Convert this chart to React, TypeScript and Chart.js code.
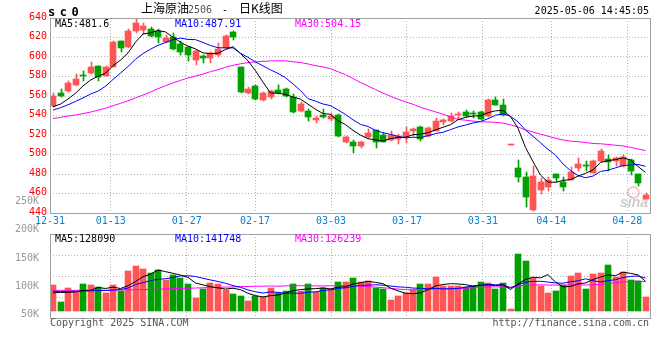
import React, { useEffect, useRef } from "react";
import { Chart, registerables } from "chart.js";

Chart.register(...registerables);

// ---------------- data ----------------
const opens = [
  549.4, 563.1, 564.8, 571.3, 581.0, 583.2, 590.4, 580.9, 590.1, 616.1,
  610.6, 626.3, 628.0, 628.7, 627.0, 615.0, 620.2, 613.3, 609.9, 596.9,
  600.7, 599.0, 602.4, 609.2, 626.0, 589.4, 563.1, 570.6, 555.9, 559.3,
  566.2, 567.2, 559.3, 545.0, 544.3, 535.7, 540.9, 536.0, 540.9, 513.2,
  513.2, 508.7, 517.6, 525.1, 520.3, 514.9, 515.9, 517.6, 524.4, 527.9,
  519.3, 524.4, 533.0, 534.7, 540.5, 543.2, 542.2, 543.2, 539.8, 555.9,
  551.1, 509.5, 486.2, 477.3, 443.1, 463.6, 467.0, 480.0, 472.1, 474.2,
  486.2, 488.9, 481.0, 493.7, 495.4, 493.0, 488.5, 494.7, 480.0, 454.4,
];
const closes = [
  560.3, 560.3, 573.0, 577.4, 580.5, 590.1, 579.8, 589.4, 615.7, 608.9,
  627.0, 634.9, 631.5, 621.9, 620.9, 619.1, 608.2, 605.5, 602.1, 606.5,
  598.6, 604.1, 608.2, 621.2, 620.2, 563.8, 567.2, 556.9, 562.7, 564.8,
  563.1, 560.3, 543.9, 551.8, 538.8, 537.4, 538.1, 539.8, 519.3, 518.3,
  508.7, 513.2, 521.7, 513.2, 513.2, 520.3, 519.3, 522.7, 526.2, 515.9,
  527.2, 534.7, 535.4, 539.8, 541.5, 539.1, 541.5, 536.4, 555.9, 551.1,
  540.9, 510.0, 477.3, 456.8, 478.3, 472.1, 474.2, 475.9, 466.3, 482.4,
  490.3, 488.5, 493.7, 503.9, 492.0, 496.1, 497.1, 482.7, 470.4, 458.5,
];
const highs = [
  563.1, 567.2, 575.7, 582.6, 586.0, 595.2, 591.0, 591.1, 616.0, 616.5,
  628.7, 640.0, 634.9, 630.4, 628.7, 622.6, 624.3, 616.8, 610.6, 607.2,
  602.4, 604.8, 614.0, 622.6, 626.5, 589.9, 569.2, 571.3, 564.4, 566.2,
  571.3, 568.2, 562.0, 553.5, 546.7, 539.8, 546.7, 542.2, 541.5, 519.3,
  514.9, 514.2, 526.2, 525.5, 521.7, 523.8, 521.0, 527.9, 526.8, 529.2,
  527.9, 537.4, 536.4, 542.2, 543.2, 545.6, 545.0, 544.3, 556.9, 559.3,
  556.9, 510.0, 494.7, 482.4, 488.5, 475.6, 476.6, 480.3, 477.3, 486.8,
  496.4, 493.7, 494.0, 505.6, 499.8, 497.5, 499.8, 495.2, 480.5, 460.2,
];
const lows = [
  548.5, 558.6, 563.8, 570.6, 575.7, 582.6, 575.7, 580.2, 589.5, 605.5,
  608.9, 624.6, 623.6, 620.2, 614.0, 614.0, 607.2, 602.0, 596.2, 592.1,
  593.8, 593.8, 599.7, 608.2, 617.4, 563.1, 562.0, 555.9, 555.2, 556.9,
  562.0, 559.3, 542.6, 543.3, 534.7, 532.6, 537.4, 534.7, 518.3, 511.5,
  501.2, 506.7, 517.0, 506.7, 512.5, 514.2, 510.8, 511.5, 519.3, 514.2,
  518.3, 523.8, 530.6, 533.0, 536.4, 538.8, 537.4, 535.7, 538.1, 550.8,
  539.8, 509.5, 472.1, 446.5, 442.4, 459.5, 462.9, 471.5, 462.9, 473.5,
  483.4, 483.4, 480.7, 492.0, 483.4, 488.5, 487.5, 479.3, 468.0, 454.0,
];
const volumes = [
  110600, 38800, 97700, 81900, 115000, 110600, 102000, 76200, 110600, 84800,
  171000, 192600, 179600, 165300, 175300, 135000, 156600, 142300, 115000, 54600,
  93400, 120700, 115000, 89100, 71900, 63200, 41700, 64700, 60400, 100600,
  76200, 84800, 115000, 84800, 115000, 81900, 99200, 94800, 123600, 123600,
  140800, 123600, 127900, 100600, 96300, 46000, 63200, 77600, 89100, 115000,
  115000, 145100, 106300, 107800, 107800, 102000, 109200, 123600, 119300, 93400,
  119300, 7200, 244300, 214100, 143700, 106300, 76200, 84800, 110600, 150900,
  163800, 93400, 159500, 163800, 198300, 146600, 168100, 135100, 129300, 60400,
];
const ma5 = [
  549.0, 551.7, 556.9, 562.8, 570.3, 576.3, 580.2, 583.4, 591.1, 596.8,
  604.2, 615.2, 623.6, 624.8, 627.2, 625.7, 620.3, 615.1, 611.2, 608.3,
  604.2, 603.4, 603.9, 607.7, 610.5, 603.5, 596.1, 585.9, 574.2, 563.1,
  562.9, 561.6, 559.0, 556.8, 551.6, 546.4, 542.0, 541.2, 534.7, 530.6,
  524.8, 519.9, 516.2, 515.0, 514.0, 516.3, 517.5, 517.7, 520.3, 520.9,
  522.3, 525.3, 527.9, 530.6, 535.7, 538.1, 539.5, 539.7, 542.9, 544.8,
  545.2, 538.9, 527.0, 507.2, 492.7, 478.9, 471.7, 471.5, 473.4, 474.2,
  477.8, 480.7, 484.2, 491.8, 493.7, 494.8, 496.6, 494.4, 487.7, 481.6,
];
const ma10 = [
  545.5, 548.0, 551.0, 554.5, 558.0, 562.0, 565.0, 570.0, 577.0, 583.5,
  590.2, 597.7, 603.5, 608.0, 612.0, 614.9, 617.8, 619.4, 618.0, 617.8,
  614.9, 611.8, 609.5, 609.4, 609.4, 603.8, 599.7, 594.9, 590.9, 586.8,
  583.2, 578.8, 572.4, 565.5, 557.3, 554.7, 551.8, 550.1, 545.7, 541.1,
  535.6, 530.9, 528.7, 524.8, 522.3, 520.6, 518.7, 517.0, 517.7, 517.4,
  519.3, 521.4, 522.8, 525.5, 528.3, 530.2, 532.4, 533.8, 536.7, 540.3,
  541.6, 539.2, 533.4, 525.1, 518.7, 512.0, 505.3, 499.3, 490.3, 483.4,
  478.4, 476.2, 477.9, 482.6, 483.9, 486.3, 488.6, 489.3, 489.7, 487.91,
];
const ma30 = [
  537.0, 538.0, 539.5, 540.5, 542.0, 543.5, 545.5, 547.5, 550.0, 552.5,
  555.0, 558.0, 561.0, 564.0, 567.5, 570.5, 573.5, 576.0, 578.5, 580.5,
  582.5, 585.0, 587.0, 589.5, 591.5, 593.0, 594.3, 595.0, 595.5, 596.0,
  596.1, 596.1, 595.1, 594.3, 592.9, 591.1, 589.8, 588.1, 584.9, 581.9,
  577.9, 573.9, 570.2, 566.6, 563.0, 559.7, 556.7, 554.0, 551.5, 548.4,
  546.1, 543.7, 541.3, 538.6, 536.0, 535.2, 534.3, 533.6, 533.4, 532.9,
  532.2, 530.5, 528.3, 525.1, 523.1, 520.9, 518.8, 516.7, 514.9, 513.7,
  513.1, 512.3, 511.3, 511.0, 510.3, 509.5, 508.8, 507.4, 505.6, 504.15,
];
const volMa5 = [
  78000, 80000, 80000, 82000, 88800, 88800, 101400, 97100, 102900, 96800,
  108900, 127000, 147700, 158700, 176800, 169600, 162400, 154900, 144800, 120700,
  112400, 105200, 99700, 94600, 98000, 92000, 76200, 66100, 60400, 66100,
  68700, 77300, 87400, 92300, 95200, 96300, 99200, 95100, 102900, 104600,
  116400, 121300, 127900, 123300, 117800, 98900, 86800, 76700, 74400, 78200,
  92000, 108400, 114100, 117800, 116400, 113800, 106600, 110100, 112400, 109500,
  113000, 92600, 116700, 135700, 145700, 143100, 156900, 125000, 104300, 105800,
  117300, 120700, 135600, 146300, 155800, 152300, 167300, 162400, 155500, 128090,
];
const volMa10 = [
  85000, 84000, 84000, 85000, 86000, 87000, 88000, 88000, 90000, 92800,
  98900, 114200, 122400, 130800, 136800, 139200, 144700, 151300, 151800, 148700,
  141000, 133800, 127300, 119700, 109400, 102200, 90700, 82900, 77500, 82100,
  80400, 76800, 76800, 76300, 80600, 82500, 88300, 91300, 97600, 99900,
  106400, 110200, 111500, 113100, 111200, 107600, 104000, 102300, 98900, 98000,
  95400, 97600, 95400, 96100, 97300, 102900, 107500, 112100, 115100, 113000,
  113400, 99600, 113400, 124000, 127600, 128000, 124700, 120900, 120000, 125700,
  130200, 138800, 130300, 125300, 130800, 134800, 144000, 149000, 150900, 141748,
];
const volMa30 = [
  89000, 89000, 89000, 89000, 89500, 89500, 90000, 90000, 90000, 90500,
  91000, 91500, 92000, 93000, 94000, 95000, 96000, 97000, 98000, 99000,
  100000, 101000, 102000, 103000, 104000, 105000, 106000, 106500, 107000, 107900,
  106700, 108300, 108800, 108900, 108900, 108000, 107900, 108500, 108900, 110200,
  109200, 106900, 105200, 103000, 100400, 97400, 94300, 92200, 91300, 93300,
  94000, 94900, 94600, 95200, 96400, 97700, 99900, 101900, 103900, 103600,
  105100, 102500, 106800, 111100, 112000, 112900, 112100, 111800, 111300, 112200,
  113000, 112000, 113000, 115200, 118600, 121900, 125400, 127300, 128700, 126239,
];

const dateLabels = ["12-31", "01-13", "01-27", "02-17", "03-03", "03-17", "03-31", "04-14", "04-28"];
const dateIndex = [0, 8, 18, 27, 37, 47, 57, 66, 76];
const priceTicks = [440, 460, 480, 500, 520, 540, 560, 580, 600, 620, 640];
const volumeTicks = [50000, 100000, 150000, 200000, 250000];
const priceLegend = ["MA5:481.6", "MA10:487.91", "MA30:504.15"];
const volumeLegend = ["MA5:128090", "MA10:141748", "MA30:126239"];
const titleCode = "sc0";
const titleName = "上海原油";
const titleContract = "2506";
const titleKind = "日K线图";
const timestamp = "2025-05-06 14:45:05";
const copyright = "Copyright 2025 SINA.COM";
const siteUrl = "http://finance.sina.com.cn";

// ---------------- styles ----------------
const MONO = '"DejaVu Sans Mono", "Liberation Mono", monospace';
const CJK = '"Noto Sans CJK SC", "Noto Sans", sans-serif';
const UP = "#ff5555";
const DOWN = "#00a000";
const GRID = "#b4b4b4";
const FRAME = "#a0a0a0";
const LINE_COLORS = ["#000000", "#0000ff", "#ff00ff"];

const idx = closes.map((_, i) => i);
const candleColors = idx.map((i) => (closes[i] >= opens[i] ? UP : DOWN));
const tickFont = { family: MONO, size: 10 };

const snapPlugin = {
  id: "snapBars",
  afterDatasetsUpdate(chart: any) {
    chart.data.datasets.forEach((ds: any, di: number) => {
      if (!ds.snap) return;
      const meta = chart.getDatasetMeta(di);
      meta.data.forEach((el: any) => {
        const c = Math.round(el.x);
        el.x = ds.snap === "wick" ? c + 0.5 : c;
        const y = Math.round(el.y);
        let b = Math.round(el.base);
        if (y === b && ds.snap !== "wick") b = y + 1;
        el.y = y;
        el.base = b;
      });
    });
  },
};

const framePlugin = {
  id: "frame",
  afterDraw(chart: any) {
    const { ctx, chartArea: a } = chart;
    ctx.save();
    ctx.strokeStyle = FRAME;
    ctx.lineWidth = 1;
    ctx.setLineDash([]);
    ctx.strokeRect(
      Math.round(a.left) + 0.5,
      Math.round(a.top) + 0.5,
      Math.round(a.right - a.left),
      Math.round(a.bottom - a.top)
    );
    ctx.restore();
  },
};

const candleAxis = {
  type: "linear",
  min: -0.4,
  max: 79.6,
  display: false,
  offset: false,
  grid: { offset: false },
};

function lineDataset(values: number[], color: string, yAxisID: string) {
  return {
    type: "line",
    data: idx.map((i) => ({ x: i, y: values[i] })),
    borderColor: color,
    borderWidth: 1,
    pointRadius: 0,
    tension: 0,
    order: 0,
    xAxisID: "x",
    yAxisID,
  };
}

function priceConfig(): any {
  return {
    type: "bar",
    data: {
      datasets: [
        lineDataset(ma5, LINE_COLORS[0], "y"),
        lineDataset(ma10, LINE_COLORS[1], "y"),
        lineDataset(ma30, LINE_COLORS[2], "y"),
        {
          type: "bar",
          snap: "body",
          data: idx.map((i) => ({ x: i, y: [opens[i], closes[i]] })),
          backgroundColor: candleColors,
          barThickness: 6,
          grouped: false,
          minBarLength: 1,
          order: 1,
          xAxisID: "x",
          yAxisID: "y",
        },
        {
          type: "bar",
          snap: "wick",
          data: idx.map((i) => ({ x: i, y: [lows[i], highs[i]] })),
          backgroundColor: candleColors,
          barThickness: 1,
          grouped: false,
          order: 2,
          xAxisID: "x",
          yAxisID: "y",
        },
      ],
    },
    options: {
      animation: false,
      responsive: false,
      devicePixelRatio: 1,
      events: [],
      layout: { padding: { top: 18, right: 10, left: 0, bottom: 0 } },
      plugins: { legend: { display: false }, tooltip: { enabled: false }, title: { display: false } },
      scales: {
        x: candleAxis,
        xd: {
          type: "linear",
          position: "bottom",
          min: 0,
          max: 79,
          offset: false,
          afterBuildTicks: (s: any) => {
            s.ticks = dateIndex.map((v) => ({ value: v }));
          },
          afterFit: (s: any) => {
            s.height = 19;
          },
          ticks: {
            autoSkip: false,
            maxRotation: 0,
            minRotation: 0,
            padding: 2,
            font: tickFont,
            color: "#0a80d0",
            callback: (_v: any, i: number) => dateLabels[i],
          },
          grid: { color: GRID, drawTicks: false, offset: false },
          border: { display: false, dash: [1, 2] },
        },
        y: {
          type: "linear",
          position: "left",
          min: 440,
          max: 640,
          afterBuildTicks: (s: any) => {
            s.ticks = priceTicks.map((v) => ({ value: v }));
          },
          afterFit: (s: any) => {
            s.width = 50;
          },
          ticks: {
            autoSkip: false,
            font: tickFont,
            color: "#ff0000",
            padding: 3,
            labelOffset: -1,
            callback: (v: any) => String(v),
          },
          grid: { color: GRID, drawTicks: false },
          border: { display: false, dash: [1, 2] },
        },
      },
    },
    plugins: [snapPlugin, framePlugin],
  };
}

function volumeConfig(): any {
  return {
    type: "bar",
    data: {
      datasets: [
        lineDataset(volMa5, LINE_COLORS[0], "yv"),
        lineDataset(volMa10, LINE_COLORS[1], "yv"),
        lineDataset(volMa30, LINE_COLORS[2], "yv"),
        {
          type: "bar",
          snap: "body",
          data: idx.map((i) => ({ x: i, y: volumes[i] })),
          backgroundColor: candleColors,
          barThickness: 6,
          grouped: false,
          order: 1,
          xAxisID: "x",
          yAxisID: "yv",
        },
      ],
    },
    options: {
      animation: false,
      responsive: false,
      devicePixelRatio: 1,
      events: [],
      layout: { padding: { top: 44, right: 10, left: 0, bottom: 22 } },
      plugins: { legend: { display: false }, tooltip: { enabled: false }, title: { display: false } },
      scales: {
        x: candleAxis,
        xd: {
          type: "linear",
          position: "bottom",
          min: 0,
          max: 79,
          offset: false,
          afterBuildTicks: (s: any) => {
            s.ticks = dateIndex.map((v) => ({ value: v }));
          },
          afterFit: (s: any) => {
            s.height = 0;
          },
          ticks: { display: false },
          grid: { color: GRID, drawTicks: false, offset: false },
          border: { display: false, dash: [1, 2] },
        },
        yv: { type: "linear", display: false, min: -30200, max: 331900 },
        yl: {
          type: "linear",
          position: "left",
          min: 43620,
          max: 192550,
          afterBuildTicks: (s: any) => {
            s.ticks = volumeTicks.map((v) => ({ value: v }));
          },
          afterFit: (s: any) => {
            s.width = 50;
          },
          ticks: {
            autoSkip: false,
            font: tickFont,
            color: "#999999",
            padding: 3,
            callback: (v: any) => `${Math.round(Number(v) / 1000)}K`,
          },
          grid: { display: false },
          border: { display: false },
        },
        yg: {
          type: "linear",
          position: "left",
          min: 0,
          max: 4,
          afterBuildTicks: (s: any) => {
            s.ticks = [1, 2, 3].map((v) => ({ value: v }));
          },
          afterFit: (s: any) => {
            s.width = 0;
          },
          ticks: { display: false },
          grid: { color: GRID, drawTicks: false },
          border: { display: false, dash: [1, 2] },
        },
      },
    },
    plugins: [snapPlugin, framePlugin],
  };
}

function Txt(props: any) {
  const { x, y, right, color = "#000", size = 10, family = MONO, weight = "normal", style, children } = props;
  return (
    <div
      style={{
        position: "absolute",
        left: right === undefined ? x : undefined,
        right,
        top: y,
        color,
        fontSize: size,
        lineHeight: `${size}px`,
        fontFamily: family,
        fontWeight: weight,
        whiteSpace: "nowrap",
        ...style,
      }}
    >
      {children}
    </div>
  );
}

export default function App() {
  const priceRef = useRef<HTMLCanvasElement>(null);
  const volRef = useRef<HTMLCanvasElement>(null);

  useEffect(() => {
    const c1 = new Chart(priceRef.current as HTMLCanvasElement, priceConfig());
    const c2 = new Chart(volRef.current as HTMLCanvasElement, volumeConfig());
    return () => {
      c1.destroy();
      c2.destroy();
    };
  }, []);

  return (
    <div style={{ position: "absolute", left: 0, top: 0, width: 660, height: 360, background: "#fff", overflow: "hidden" }}>
      <canvas ref={priceRef} width={660} height={232} style={{ position: "absolute", left: 0, top: 0, width: 660, height: 232 }} />
      <canvas ref={volRef} width={660} height={150} style={{ position: "absolute", left: 0, top: 190, width: 660, height: 150 }} />

      <Txt x={48} y={6} size={12} weight="bold" style={{ letterSpacing: "4.5px" }}>{titleCode}</Txt>
      <Txt x={141} y={2} size={12} family={CJK}>{titleName}</Txt>
      <Txt x={188} y={5} color="#555">{titleContract}</Txt>
      <Txt x={222} y={5}>-</Txt>
      <Txt x={239} y={2} size={12} family={CJK}>{titleKind}</Txt>
      <Txt right={11} y={6}>{timestamp}</Txt>

      <Txt x={55} y={19} color={LINE_COLORS[0]}>{priceLegend[0]}</Txt>
      <Txt x={175} y={19} color={LINE_COLORS[1]}>{priceLegend[1]}</Txt>
      <Txt x={295} y={19} color={LINE_COLORS[2]}>{priceLegend[2]}</Txt>

      <Txt x={55} y={234} color={LINE_COLORS[0]}>{volumeLegend[0]}</Txt>
      <Txt x={175} y={234} color={LINE_COLORS[1]}>{volumeLegend[1]}</Txt>
      <Txt x={295} y={234} color={LINE_COLORS[2]}>{volumeLegend[2]}</Txt>

      <div style={{ position: "absolute", left: 627, top: 186, width: 9, height: 9, borderRadius: "50%", border: "2px solid rgba(240,150,150,0.55)" }} />
      <Txt x={620} y={195} size={14} family='"Liberation Sans", sans-serif' weight="bold" color="rgba(170,170,170,0.6)" style={{ fontStyle: "italic" }}>sina</Txt>

      <Txt x={50} y={318} color="#555">{copyright}</Txt>
      <Txt right={11} y={318} color="#555">{siteUrl}</Txt>
    </div>
  );
}
